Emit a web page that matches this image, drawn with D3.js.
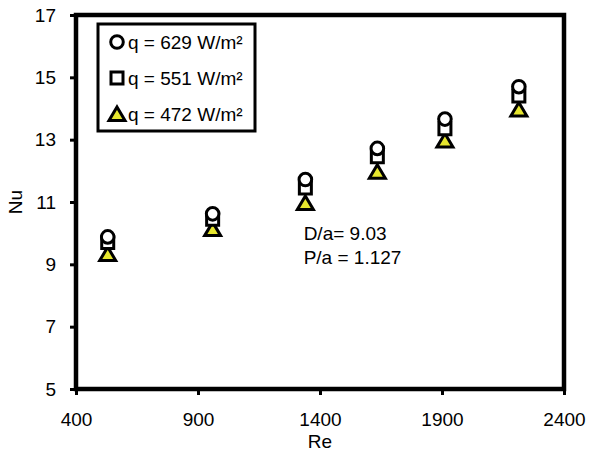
<!DOCTYPE html>
<html>
<head>
<meta charset="utf-8">
<script src="https://cdn.jsdelivr.net/npm/d3@7"></script>
<style>
  body { margin: 0; background: #fff; }
  text { font-family: "Liberation Sans", Arial, sans-serif; }
</style>
</head>
<body>
<div id="chart"></div>
<script>
// data
const reValues = [530, 960, 1340, 1635, 1912, 2215];
const nu629 = [9.88, 10.62, 11.72, 12.72, 13.66, 14.7];
const nu551 = [9.7, 10.45, 11.45, 12.45, 13.35, 14.4];
const nu472 = [9.33, 10.13, 10.97, 11.97, 12.97, 13.97];
const seriesNames = ["q = 629 W/m²", "q = 551 W/m²", "q = 472 W/m²"];
const xTicks = [400, 900, 1400, 1900, 2400];
const yTicks = [5, 7, 9, 11, 13, 15, 17];
const notes = ["D/a= 9.03", "P/a = 1.127"];

const W = 600, H = 458;
const margin = { top: 15, right: 36, bottom: 69, left: 76 };
const width = W - margin.left - margin.right;
const height = H - margin.top - margin.bottom;
const fontSize = "19px";

const svg = d3.select("#chart").append("svg")
    .attr("width", W)
    .attr("height", H);

const g = svg.append("g")
    .attr("transform", "translate(" + margin.left + "," + margin.top + ")");

const x = d3.scaleLinear().domain([400, 2400]).range([0, width]);
const y = d3.scaleLinear().domain([5, 17]).range([height, 0]);

// axes with outward ticks
const xAxis = g.append("g")
    .attr("transform", "translate(0," + height + ")")
    .call(d3.axisBottom(x).tickValues(xTicks).tickSize(6).tickPadding(18).tickFormat(d3.format("d")));
const yAxis = g.append("g")
    .call(d3.axisLeft(y).tickValues(yTicks).tickSize(6).tickPadding(14).tickFormat(d3.format("d")));

[xAxis, yAxis].forEach(a => {
    a.select(".domain").remove();
    a.selectAll("line").attr("stroke", "#000").attr("stroke-width", 3);
    a.selectAll("text").attr("fill", "#000").style("font-size", fontSize);
});

// frame
g.append("rect")
    .attr("x", 0).attr("y", 0)
    .attr("width", width).attr("height", height)
    .attr("fill", "none")
    .attr("stroke", "#000")
    .attr("stroke-width", 4.5);

// axis titles
svg.append("text")
    .attr("x", margin.left + width / 2)
    .attr("y", 448)
    .attr("text-anchor", "middle")
    .style("font-size", fontSize)
    .text("Re");

svg.append("text")
    .attr("transform", "translate(22," + (margin.top + height / 2) + ") rotate(-90)")
    .attr("text-anchor", "middle")
    .style("font-size", fontSize)
    .text("Nu");

// marker shapes
const circlePath = "M0,-6.3A6.3,6.3 0 1,1 0,6.3A6.3,6.3 0 1,1 0,-6.3Z";
const squarePath = "M-6,-6H6V6H-6Z";
const trianglePath = "M0,-7L8,6.5L-8,6.5Z";

const series = [
    { name: seriesNames[0], values: nu629, path: circlePath, fill: "#fff" },
    { name: seriesNames[1], values: nu551, path: squarePath, fill: "#fff" },
    { name: seriesNames[2], values: nu472, path: trianglePath, fill: "#e6e62e" }
];

// triangle first, then square, then circle on top like the picture
[series[2], series[1], series[0]].forEach(s => {
    g.selectAll(null)
        .data(reValues.map((r, i) => ({ re: r, nu: s.values[i] })))
        .enter()
        .append("path")
        .attr("d", s.path)
        .attr("transform", d => "translate(" + x(d.re) + "," + y(d.nu) + ")")
        .attr("fill", s.fill)
        .attr("stroke", "#000")
        .attr("stroke-width", 3);
});

// annotation
g.selectAll(".note")
    .data(notes)
    .enter()
    .append("text")
    .attr("class", "note")
    .attr("x", x(1333))
    .attr("y", (d, i) => 225 + i * 24)
    .style("font-size", fontSize)
    .text(d => d);

// legend
const legend = svg.append("g").attr("transform", "translate(98,24)");
legend.append("rect")
    .attr("width", 157).attr("height", 107)
    .attr("fill", "#fff")
    .attr("stroke", "#000")
    .attr("stroke-width", 3);

series.forEach((s, i) => {
    const row = legend.append("g").attr("transform", "translate(19," + (18 + i * 36) + ")");
    row.append("path")
        .attr("d", s.path)
        .attr("fill", s.fill)
        .attr("stroke", "#000")
        .attr("stroke-width", 3);
    row.append("text")
        .attr("x", 11)
        .attr("y", 7)
        .style("font-size", fontSize)
        .text(s.name);
});
</script>
</body>
</html>
